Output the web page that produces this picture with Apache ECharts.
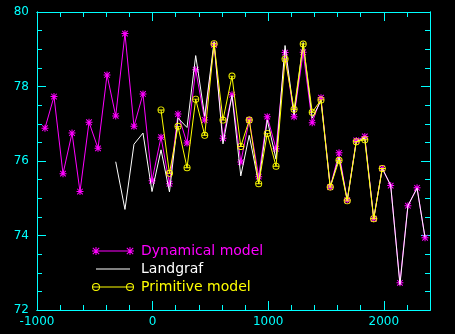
<!DOCTYPE html>
<html>
<head>
<meta charset="utf-8">
<script src="https://cdn.jsdelivr.net/npm/echarts@6/dist/echarts.min.js"></script>
<style>
  html, body { margin: 0; padding: 0; background: #000; }
  #chart { width: 455px; height: 334px; }
</style>
</head>
<body>
<div id="chart"></div>
<script>
// Sample years shared by all three series
const years = [-931, -853, -775, -697, -628, -550, -472, -394, -319, -239, -161, -83, -5, 73,
  146, 220, 298, 373, 451, 532, 609, 687, 763, 836, 918, 992, 1068, 1146, 1224, 1303,
  1381, 1457, 1537, 1613, 1684, 1762, 1836, 1913, 1987, 2060, 2140, 2209, 2288, 2357];

// Dynamical model: every year
const dynamical = [76.88, 77.73, 75.66, 76.75, 75.18, 77.04, 76.34, 78.31, 77.21, 79.42,
  76.93, 77.80, 75.47, 76.64, 75.39, 77.26, 76.48, 78.45, 77.10, 79.12, 76.61, 77.78,
  75.97, 77.10, 75.58, 77.19, 76.33, 78.91, 77.19, 78.92, 77.03, 77.70, 75.30, 76.22,
  74.95, 76.55, 76.66, 74.45, 75.80, 75.34, 72.73, 74.80, 75.28, 73.94];

// Landgraf: starts at years[8]
const landgrafStart = 8;
const landgraf = [75.98, 74.70, 76.45, 76.75, 75.18, 76.30, 75.17, 77.15, 76.90, 78.83,
  77.20, 79.20, 76.46, 77.76, 75.60, 76.69, 75.40, 77.10, 76.05, 79.10, 77.24, 79.18,
  77.15, 77.62, 75.30, 76.10, 74.95, 76.52, 76.62, 74.45, 75.80, 75.35, 72.68, 74.80,
  75.27, 73.95];

// Primitive model: years[13] .. years[38]
const primitiveStart = 13;
const primitive = [77.37, 75.67, 76.93, 75.82, 77.66, 76.69, 79.15, 77.10, 78.28, 76.39,
  77.10, 75.39, 76.74, 75.86, 78.74, 77.39, 79.14, 77.31, 77.64, 75.30, 76.02, 74.93,
  76.52, 76.57, 74.45, 75.80];

// Axis tick labels
const xLabels = [-1000, 0, 1000, 2000];
const yLabels = [72, 74, 76, 78, 80];

const CYAN = '#00ffff';
const MAGENTA = '#ff00ff';
const YELLOW = '#ffff00';
const WHITE = '#ffffff';

function pairs(values, start) {
  return values.map((v, i) => [years[start + i], v]);
}

// Asterisk glyph in a (s x s) box at offset ox, stroke width w
function asteriskPath(ox, s, w) {
  const c = s / 2, h = w / 2, d = h * Math.SQRT1_2, a = s * 0.1, b = s - a;
  const f = n => +n.toFixed(3);
  return [
    `M${f(ox)},${f(c - h)}H${f(ox + s)}V${f(c + h)}H${f(ox)}Z`,
    `M${f(ox + c - h)},0H${f(ox + c + h)}V${f(s)}H${f(ox + c - h)}Z`,
    `M${f(ox + a + d)},${f(a - d)}L${f(ox + b + d)},${f(b - d)}L${f(ox + b - d)},${f(b + d)}L${f(ox + a - d)},${f(a + d)}Z`,
    `M${f(ox + b - d)},${f(a - d)}L${f(ox + b + d)},${f(a + d)}L${f(ox + a + d)},${f(b + d)}L${f(ox + a - d)},${f(b - d)}Z`
  ].join('');
}

// Open circle with a horizontal bar, centred at (cx, r)
function ringPath(cx, r, w) {
  const ri = r - w, f = n => +n.toFixed(3);
  return `M${f(cx)},0A${r},${r},0,1,1,${f(cx)},${f(2 * r)}A${r},${r},0,1,1,${f(cx)},0Z` +
    `M${f(cx)},${f(w)}A${ri},${ri},0,1,0,${f(cx)},${f(2 * r - w)}A${ri},${ri},0,1,0,${f(cx)},${f(w)}Z` +
    `M${f(cx - r)},${f(r - w / 2)}H${f(cx + r)}V${f(r + w / 2)}H${f(cx - r)}Z`;
}

const starSymbol = 'path://' + asteriskPath(0, 14, 2);
const ringSymbol = 'path://' + ringPath(8, 8, 2);

// Legend icons: 42 x 8 boxes
const legendLine = 'M4,3.5H38V4.5H4Z';
const bboxDots = 'M0,0L0.01,0L0,0.01ZM42,8L41.99,8L42,7.99Z';
const iconDyn = 'path://' + asteriskPath(0, 8, 1) + legendLine + asteriskPath(34, 8, 1);
const iconLand = 'path://' + bboxDots + legendLine;
const iconPrim = 'path://' + ringPath(4, 4, 1) + legendLine + ringPath(38, 4, 1);

const gridBox = { left: 37, right: 25, top: 12, bottom: 24 };
const xMin = -1000, xMax = 2400, yMin = 72, yMax = 80;

function xAx(gridIndex, position, interval, tickLen, labels) {
  return {
    type: 'value', gridIndex, position, min: xMin, max: xMax, interval,
    axisLine: { show: true, onZero: false, lineStyle: { color: CYAN, width: 1 } },
    axisTick: { show: true, inside: true, length: tickLen, lineStyle: { color: CYAN, width: 1 } },
    axisLabel: labels ? {
      show: true, color: CYAN, fontFamily: 'DejaVu Sans', fontSize: 12, margin: 6,
      showMaxLabel: false,
      formatter: v => (xLabels.includes(v) ? String(v) : '')
    } : { show: false },
    splitLine: { show: false }
  };
}

function yAx(gridIndex, position, interval, tickLen, labels) {
  return {
    type: 'value', gridIndex, position, min: yMin, max: yMax, interval,
    axisLine: { show: true, onZero: false, lineStyle: { color: CYAN, width: 1 } },
    axisTick: { show: true, inside: true, length: tickLen, lineStyle: { color: CYAN, width: 1 } },
    axisLabel: labels ? {
      show: true, color: CYAN, fontFamily: 'DejaVu Sans', fontSize: 12, margin: 8,
      formatter: v => (yLabels.includes(v) ? String(v) : '')
    } : { show: false },
    splitLine: { show: false }
  };
}

const chart = echarts.init(document.getElementById('chart'), null, { renderer: 'canvas' });

chart.setOption({
  backgroundColor: '#000000',
  animation: false,
  grid: [
    Object.assign({ containLabel: false }, gridBox),
    Object.assign({ containLabel: false }, gridBox)
  ],
  xAxis: [
    xAx(0, 'bottom', 1000, 9, true),
    xAx(0, 'top', 1000, 9, false),
    xAx(1, 'bottom', 200, 5, false),
    xAx(1, 'top', 200, 5, false)
  ],
  yAxis: [
    yAx(0, 'left', 2, 9, true),
    yAx(0, 'right', 2, 9, false),
    yAx(1, 'left', 0.5, 5, false),
    yAx(1, 'right', 0.5, 5, false)
  ],
  legend: {
    orient: 'vertical',
    left: 87,
    top: 239,
    itemWidth: 42,
    itemHeight: 8,
    itemGap: 4,
    selectedMode: false,
    textStyle: { fontFamily: 'DejaVu Sans', fontSize: 14, lineHeight: 14, padding: [0, 0, 0, 2] },
    data: [
      { name: 'Dynamical model', icon: iconDyn, textStyle: { color: MAGENTA } },
      { name: 'Landgraf', icon: iconLand, textStyle: { color: WHITE } },
      { name: 'Primitive model', icon: iconPrim, textStyle: { color: YELLOW } }
    ]
  },
  series: [
    {
      name: 'Dynamical model',
      type: 'line',
      xAxisIndex: 0, yAxisIndex: 0,
      data: pairs(dynamical, 0),
      symbol: starSymbol,
      symbolSize: 7,
      showAllSymbol: true,
      color: MAGENTA,
      itemStyle: { color: MAGENTA },
      lineStyle: { color: MAGENTA, width: 1 },
      z: 2
    },
    {
      name: 'Landgraf',
      type: 'line',
      xAxisIndex: 0, yAxisIndex: 0,
      data: pairs(landgraf, landgrafStart),
      symbol: 'none',
      color: WHITE,
      itemStyle: { color: WHITE },
      lineStyle: { color: WHITE, width: 1 },
      z: 3
    },
    {
      name: 'Primitive model',
      type: 'line',
      xAxisIndex: 0, yAxisIndex: 0,
      data: pairs(primitive, primitiveStart),
      symbol: ringSymbol,
      symbolSize: 7,
      showAllSymbol: true,
      color: YELLOW,
      itemStyle: { color: YELLOW },
      lineStyle: { color: YELLOW, width: 1 },
      z: 4
    }
  ]
});
</script>
</body>
</html>
